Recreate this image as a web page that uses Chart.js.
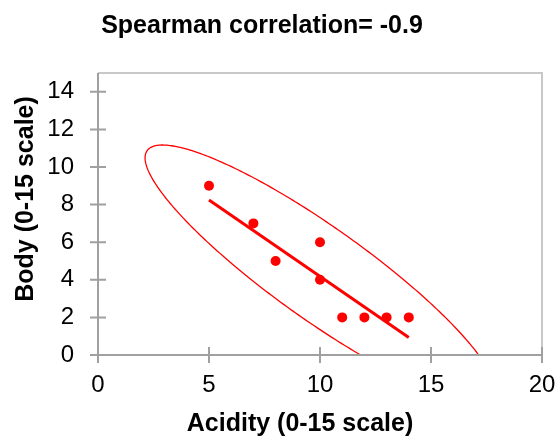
<!DOCTYPE html>
<html>
<head>
<meta charset="utf-8">
<script src="https://cdn.jsdelivr.net/npm/chart.js@4"></script>
<style>
  body { margin: 0; background: #fff; }
</style>
</head>
<body>
<canvas id="chart" width="558" height="439"></canvas>
<script>
// values
const acidity = [5, 7, 8, 10, 10, 11, 12, 13, 14];
const body = [9, 7, 5, 6, 4, 2, 2, 2, 2];
const fitX = [5, 14];
const fitY = [8.25, 0.93];
// confidence ellipse: centre, half extent in x / y, correlation
const ellipseCenter = [10, 4.33];
const ellipseHalf = [7.88, 6.84];
const ellipseCorr = -0.9;
const xTicks = [0, 5, 10, 15, 20];
const yTicks = [0, 2, 4, 6, 8, 10, 12, 14];
const titleText = 'Spearman correlation= -0.9';
const xTitle = 'Acidity (0-15 scale)';
const yTitle = 'Body (0-15 scale)';

const FONT = '"Liberation Sans", Arial, sans-serif';

const decor = {
    id: 'decor',
    beforeDatasetsDraw(chart) {
        const { ctx, chartArea: a, scales: { x, y } } = chart;
        // ellipse, clipped to the plot area
        ctx.save();
        ctx.beginPath();
        ctx.rect(a.left, a.top, a.right - a.left, a.bottom - a.top);
        ctx.clip();
        ctx.beginPath();
        const s = Math.sqrt(1 - ellipseCorr * ellipseCorr);
        for (let i = 0; i <= 360; i++) {
            const t = i * Math.PI / 180;
            const px = x.getPixelForValue(ellipseCenter[0] + ellipseHalf[0] * Math.cos(t));
            const py = y.getPixelForValue(ellipseCenter[1] + ellipseHalf[1] * (ellipseCorr * Math.cos(t) + s * Math.sin(t)));
            if (i === 0) ctx.moveTo(px, py); else ctx.lineTo(px, py);
        }
        ctx.closePath();
        ctx.strokeStyle = '#ff0000';
        ctx.lineWidth = 1.3;
        ctx.stroke();
        ctx.restore();
    },
    afterDraw(chart) {
        const { ctx, chartArea: a, scales: { x, y } } = chart;
        ctx.save();
        // light frame top / right
        ctx.strokeStyle = '#c8c8c8';
        ctx.lineWidth = 2;
        ctx.beginPath();
        ctx.moveTo(a.left, a.top);
        ctx.lineTo(a.right, a.top);
        ctx.lineTo(a.right, a.bottom);
        ctx.stroke();
        // axes with crossing ticks
        ctx.strokeStyle = '#a0a0a0';
        ctx.beginPath();
        ctx.moveTo(a.left, a.top);
        ctx.lineTo(a.left, a.bottom);
        ctx.lineTo(a.right, a.bottom);
        yTicks.forEach(v => {
            const py = y.getPixelForValue(v);
            ctx.moveTo(a.left - 8, py);
            ctx.lineTo(a.left + 8, py);
        });
        xTicks.forEach(v => {
            const px = x.getPixelForValue(v);
            ctx.moveTo(px, a.bottom - 8);
            ctx.lineTo(px, a.bottom + 8);
        });
        ctx.stroke();

        // titles
        ctx.fillStyle = '#000';
        ctx.font = 'bold 25px ' + FONT;
        ctx.textAlign = 'center';
        ctx.textBaseline = 'alphabetic';
        ctx.fillText(titleText, 262, 33);
        ctx.fillText(xTitle, 300, 431);
        ctx.translate(33, 199);
        ctx.rotate(-Math.PI / 2);
        ctx.fillText(yTitle, 0, 0);
        ctx.restore();
    }
};

new Chart(document.getElementById('chart'), {
    type: 'scatter',
    data: {
        datasets: [{
            data: fitX.map((v, i) => ({ x: v, y: fitY[i] })),
            showLine: true,
            borderColor: '#ff0000',
            borderWidth: 3,
            pointRadius: 0
        }, {
            data: acidity.map((v, i) => ({ x: v, y: body[i] })),
            backgroundColor: '#ff0000',
            borderWidth: 0,
            pointRadius: 5
        }]
    },
    options: {
        responsive: false,
        devicePixelRatio: 1,
        animation: false,
        layout: { padding: { top: 73, right: 16, left: 0, bottom: 0 } },
        plugins: { legend: { display: false }, tooltip: { enabled: false } },
        scales: {
            x: {
                type: 'linear',
                min: 0,
                max: 20,
                afterBuildTicks: s => { s.ticks = xTicks.map(v => ({ value: v })); },
                afterFit: s => { s.height = 84; s.paddingLeft = 0; s.paddingRight = 0; },
                grid: { display: false, drawTicks: false },
                border: { display: false },
                ticks: { color: '#000', font: { family: FONT, size: 24 }, padding: 16, maxRotation: 0 }
            },
            y: {
                type: 'linear',
                min: 0,
                max: 15,
                afterBuildTicks: s => { s.ticks = yTicks.map(v => ({ value: v })); },
                afterFit: s => { s.width = 98; s.paddingTop = 0; s.paddingBottom = 0; },
                grid: { display: false, drawTicks: false },
                border: { display: false },
                ticks: { color: '#000', font: { family: FONT, size: 24 }, padding: 24 }
            }
        }
    },
    plugins: [decor]
});
</script>
</body>
</html>
